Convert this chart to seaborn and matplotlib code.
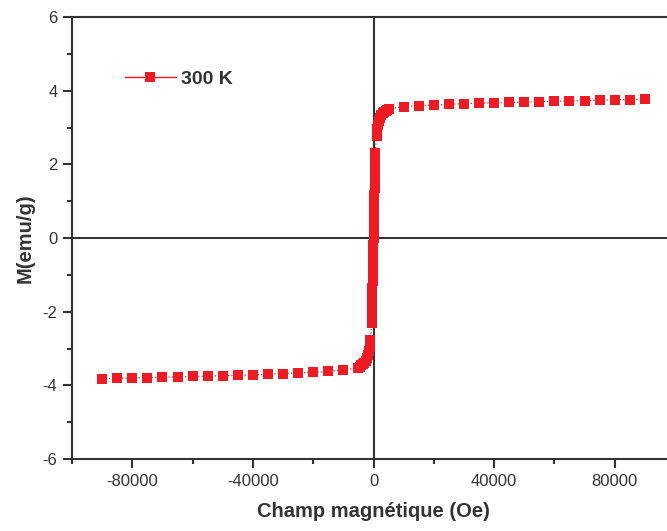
import matplotlib
matplotlib.use('Agg')
import matplotlib.pyplot as plt
from matplotlib.ticker import MultipleLocator
from matplotlib.lines import Line2D
import seaborn as sns
import pandas as pd

# Field (Oe) and magnetization (emu/g)
field = [
    -90000, -85000, -80000, -75000, -70000, -65000, -60000, -55000, -50000,
    -45000, -40000, -35000, -30000, -25000, -20000, -15000, -10000, -5000,
    -4500, -4000, -3500, -3000, -2500, -2100, -1800, -1500, -1200, -1000,
    -600, -550, -500, -450, -400, -350, -300, -250, -200, -150, -100, -50,
    0, 50, 100, 150, 200, 250, 300, 350, 400, 450, 500, 550, 600,
    1000, 1200, 1500, 1800, 2100, 2500, 3000, 3500, 4000, 4500,
    5000, 10000, 15000, 20000, 25000, 30000, 35000, 40000, 45000,
    50000, 55000, 60000, 65000, 70000, 75000, 80000, 85000, 90000,
]
moment = [
    -3.82, -3.81, -3.80, -3.79, -3.78, -3.77, -3.76, -3.75, -3.74,
    -3.73, -3.72, -3.70, -3.68, -3.66, -3.65, -3.62, -3.59, -3.52,
    -3.49, -3.46, -3.43, -3.39, -3.33, -3.26, -3.18, -3.08, -2.95, -2.78,
    -2.30, -2.13, -1.94, -1.75, -1.56, -1.37, -1.17, -0.98, -0.78, -0.59, -0.39, -0.20,
    0.00, 0.20, 0.39, 0.59, 0.78, 0.98, 1.17, 1.37, 1.56, 1.75, 1.94, 2.13, 2.30,
    2.78, 2.95, 3.08, 3.18, 3.26, 3.33, 3.39, 3.42, 3.45, 3.48,
    3.50, 3.57, 3.59, 3.61, 3.63, 3.65, 3.66, 3.67, 3.68,
    3.69, 3.70, 3.71, 3.72, 3.73, 3.74, 3.75, 3.76, 3.77,
]
series_label = '300 K'

df = pd.DataFrame({'H': field, 'M': moment})

RED = '#ED1C24'
DARK = '#333333'

sns.set_style('ticks')
plt.rcParams['font.family'] = ['Liberation Sans', 'DejaVu Sans']
plt.rcParams['axes.unicode_minus'] = False
plt.rcParams['text.color'] = DARK
plt.rcParams['axes.labelcolor'] = DARK
plt.rcParams['xtick.color'] = DARK
plt.rcParams['ytick.color'] = DARK

fig = plt.figure(figsize=(6.67, 5.31), dpi=100)
# right spine sits just past the image edge, as in the original
ax = fig.add_axes([72 / 667, (531 - 459) / 531, (675 - 72) / 667, (459 - 17) / 531])

ax.axhline(0, color=DARK, lw=1.5, zorder=1)
ax.axvline(0, color=DARK, lw=1.5, zorder=1)

sns.lineplot(data=df, x='H', y='M', sort=False, estimator=None, ax=ax,
             color=RED, lw=0.9, linestyle=':', marker='s', markersize=7,
             markeredgewidth=0, zorder=3)

ax.set_xlim(-100000, 100000)
ax.set_ylim(-6, 6)
ax.xaxis.set_major_locator(MultipleLocator(40000))
ax.xaxis.set_minor_locator(MultipleLocator(20000))
ax.yaxis.set_major_locator(MultipleLocator(2))
ax.yaxis.set_minor_locator(MultipleLocator(1))
ax.tick_params(which='major', length=6.5, width=1.5, labelsize=12, pad=4)
ax.tick_params(which='minor', length=3.5, width=1.5)
for s in ax.spines.values():
    s.set_color(DARK)
    s.set_linewidth(1.5)

ax.set_xlabel('Champ magnétique (Oe)', fontsize=14.5, fontweight='bold', labelpad=10)
ax.set_ylabel('M(emu/g)', fontsize=14.5, fontweight='bold', labelpad=6)

handle = Line2D([], [], color=RED, lw=1, marker='s', markersize=7, markeredgewidth=0)
leg = ax.legend([handle], [series_label], loc='center left',
                bbox_to_anchor=((125 - 72) / 603, (459 - 79) / 442),
                frameon=False, borderpad=0, borderaxespad=0,
                handlelength=2.6, handletextpad=0.3,
                prop={'size': 14, 'weight': 'bold'})

fig.savefig('out.png', dpi=100)
